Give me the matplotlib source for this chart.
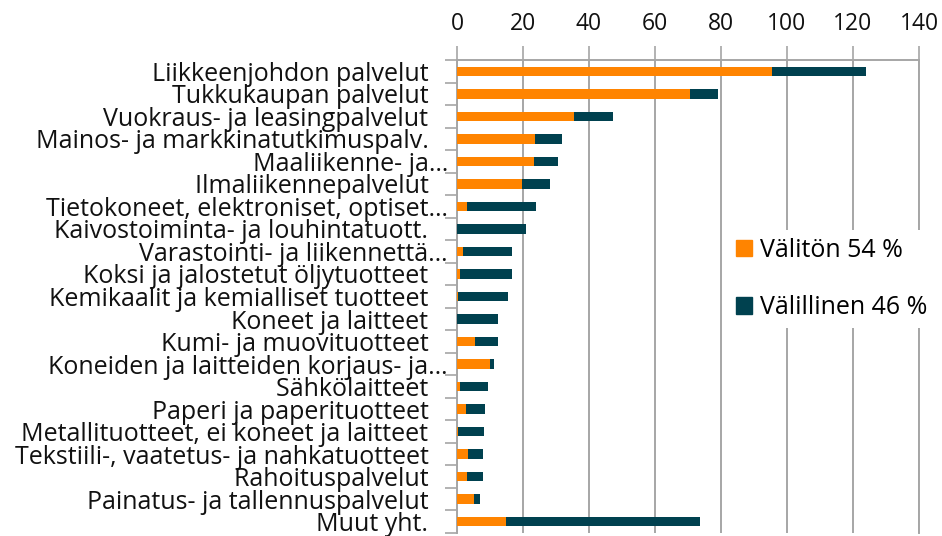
import numpy as np
import matplotlib
matplotlib.use("Agg")
import matplotlib.pyplot as plt
from matplotlib.patches import Patch

plt.rcParams['font.family'] = ['Open Sans', 'DejaVu Sans']

categories = [
    "Liikkeenjohdon palvelut",
    "Tukkukaupan palvelut",
    "Vuokraus- ja leasingpalvelut",
    "Mainos- ja markkinatutkimuspalv.",
    "Maaliikenne- ja\u2026",
    "Ilmaliikennepalvelut",
    "Tietokoneet, elektroniset, optiset\u2026",
    "Kaivostoiminta- ja louhintatuott.",
    "Varastointi- ja liikennettä\u2026",
    "Koksi ja jalostetut öljytuotteet",
    "Kemikaalit ja kemialliset tuotteet",
    "Koneet ja laitteet",
    "Kumi- ja muovituotteet",
    "Koneiden ja laitteiden korjaus- ja\u2026",
    "Sähkölaitteet",
    "Paperi ja paperituotteet",
    "Metallituotteet, ei koneet ja laitteet",
    "Tekstiili-, vaatetus- ja nahkatuotteet",
    "Rahoituspalvelut",
    "Painatus- ja tallennuspalvelut",
    "Muut yht.",
]
valiton = [95.4, 70.6, 35.6, 23.6, 23.4, 19.8, 2.9, 0.0, 1.8, 0.8, 0.2,
           0.0, 5.4, 10.0, 0.8, 2.7, 0.4, 3.4, 3.1, 5.2, 14.9]
yhteensa = [123.8, 79.1, 47.2, 31.7, 30.5, 28.1, 23.8, 20.8, 16.8, 16.6, 15.6,
            12.4, 12.3, 11.2, 9.3, 8.4, 8.1, 8.0, 7.8, 7.0, 73.6]
valillinen = [t - v for t, v in zip(yhteensa, valiton)]
legend_labels = ["Välitön 54 %", "Välillinen 46 %"]
xticks = [0, 20, 40, 60, 80, 100, 120, 140]

ORANGE = "#FF8400"
TEAL = "#00414F"
GRID = "#A6A6A6"

fig = plt.figure(figsize=(9.42, 5.36), dpi=100)
ax = fig.add_axes([457/942, 1-533/536, 462/942, 473/536])

y = np.arange(len(categories))
ax.barh(y, valiton, height=0.42, color=ORANGE, edgecolor="none", zorder=3)
ax.barh(y, valillinen, left=valiton, height=0.42, color=TEAL, edgecolor="none", zorder=3)

ax.set_ylim(len(categories) - 0.5, -0.5)
ax.set_xlim(0, 140)
ax.set_xticks(xticks)
ax.xaxis.tick_top()
ax.tick_params(axis="x", which="major", length=10, width=1.2, color=GRID,
               labelsize=16.5, pad=7, labelcolor="#111111")
ax.grid(axis="x", color=GRID, linewidth=1.4, zorder=0)

# labels at bar centres, tick marks at category boundaries
lab = [c if c.endswith("\u2026") else c + "   " for c in categories]
ax.set_yticks(y)
ax.set_yticklabels(lab)
ax.set_yticks(np.arange(len(categories) + 1) - 0.5, minor=True)
ax.tick_params(axis="y", which="major", length=0, pad=6.5, labelsize=18,
               labelcolor="#111111")
ax.tick_params(axis="y", which="minor", length=9, width=1.2, color=GRID)

for s in ["top", "left", "right"]:
    ax.spines[s].set_color(GRID)
    ax.spines[s].set_linewidth(1.4)
ax.spines["bottom"].set_visible(False)

handles = [Patch(color=ORANGE), Patch(color=TEAL)]
leg = fig.legend(handles, legend_labels, loc="center left",
                 bbox_to_anchor=(728/942, 1-279/536), frameon=True,
                 fontsize=18, handlelength=0.66, handleheight=0.66,
                 handletextpad=0.3, labelspacing=1.3, borderpad=0.3,
                 borderaxespad=0)
leg.get_frame().set_facecolor("white")
leg.get_frame().set_edgecolor("none")
leg.get_frame().set_alpha(1)

fig.savefig("out.png", dpi=100)
